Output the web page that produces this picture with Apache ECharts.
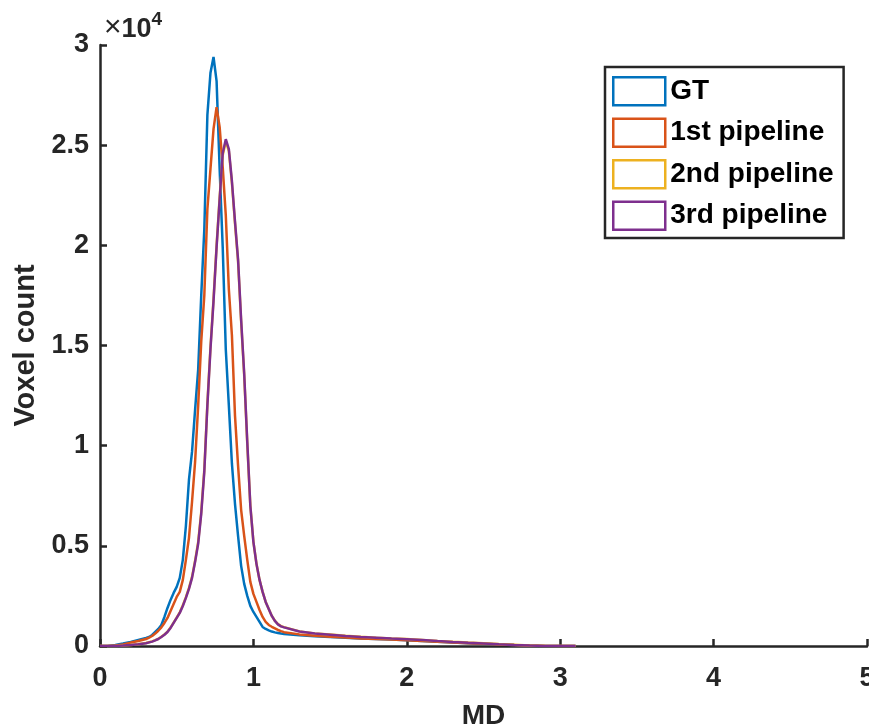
<!DOCTYPE html>
<html>
<head>
<meta charset="utf-8">
<script src="https://cdn.jsdelivr.net/npm/echarts@6/dist/echarts.min.js"></script>
<style>
html,body{margin:0;padding:0;background:#fff;overflow:hidden;}
#chart{width:869px;height:728px;}
</style>
</head>
<body>
<div id="chart"></div>
<script>
// Histogram bin positions (MD) and voxel counts
const mdBins = [0,0.05,0.10,0.15,0.20,0.25,
  0.30,0.32,0.34,0.36,0.38,0.40,0.42,0.44,0.46,0.48,0.50,0.52,0.54,0.56,0.58,0.60,0.62,0.64,0.66,0.68,
  0.70,0.72,0.74,0.76,0.78,0.80,0.82,0.84,0.86,0.88,0.90,0.92,0.94,0.96,0.98,1.00,1.02,1.04,1.06,1.08,
  1.10,1.12,1.14,1.16,1.18,1.20,
  1.3,1.4,1.5,1.6,1.7,1.8,1.9,2.0,2.1,2.2,2.3,2.4,2.5,2.6,2.7,2.8,2.9,3.0,3.1];

const gtCounts = [0,0,50,120,200,300,
  400,450,550,700,850,1050,1450,1900,2300,2650,2950,3400,4300,6000,8300,9700,11800,13800,17500,20800,
  26500,28600,29400,28200,23800,19900,14800,12000,9100,7100,5500,4000,3100,2500,2000,1700,1450,1200,950,850,
  780,720,680,650,620,600,
  540,490,450,410,380,350,320,290,250,210,170,140,110,75,45,20,5,0,0];

const p1Counts = [0,0,30,80,170,250,
  350,420,500,620,760,930,1150,1400,1750,2100,2450,2700,3300,4300,5400,7200,9200,12000,15200,17500,
  21800,23800,25800,26900,25900,23900,21500,17800,15500,11500,9000,6800,5500,4300,3200,2600,2200,1800,1450,1200,
  1050,960,880,800,740,690,
  580,510,460,420,380,350,320,290,250,210,170,140,110,75,45,20,5,0,0];

const p2Counts = [0,0,0,20,50,90,
  150,190,230,290,360,460,570,720,920,1170,1420,1680,2030,2440,2900,3450,4250,5200,6700,8800,
  12100,14900,17300,20000,22400,24500,25200,24700,23100,21100,19200,16200,13500,10100,7000,5200,4100,3300,2700,2200,
  1850,1500,1260,1090,990,940,
  730,630,570,510,460,415,375,345,305,255,210,170,135,95,60,25,8,0,0];

const p3Counts = [0,0,0,20,50,90,
  140,180,220,280,350,450,560,700,900,1150,1400,1650,2000,2400,2850,3400,4200,5100,6600,8700,
  12000,14800,17200,19900,22300,24600,25300,24800,23200,21200,19300,16300,13600,10200,7000,5200,4100,3300,2700,2200,
  1850,1500,1250,1080,980,930,
  720,620,560,500,450,410,370,340,300,250,205,165,130,90,55,22,6,0,0];

const seriesNames = ['GT','1st pipeline','2nd pipeline','3rd pipeline'];
const seriesColors = ['#0072BD','#D95319','#EDB120','#7E2F8E'];
const allCounts = [gtCounts,p1Counts,p2Counts,p3Counts];

const axisColor = '#262626';
const fontFam = '"Liberation Sans", Arial, Helvetica, sans-serif';

const chart = echarts.init(document.getElementById('chart'), null, {renderer:'canvas'});

const series = seriesNames.map((n,i)=>({
  name:n,
  type:'line',
  showSymbol:false,
  symbol:'none',
  animation:false,
  data: mdBins.map((x,k)=>[x, allCounts[i][k]]),
  lineStyle:{color:seriesColors[i], width:2.5},
  itemStyle:{color:seriesColors[i]},
  z: 2+i
}));

chart.setOption({
  backgroundColor:'#fff',
  animation:false,
  grid:{left:100, right:2, top:45, bottom:82, containLabel:false, outerBoundsMode:'none'},
  xAxis:{
    type:'value', min:0, max:5, interval:1,
    name:'MD', nameLocation:'middle', nameGap:56,
    nameTextStyle:{fontFamily:fontFam, fontWeight:'bold', fontSize:28, color:axisColor},
    axisLine:{show:true, onZero:false, lineStyle:{color:axisColor, width:2.5}},
    axisTick:{show:true, inside:true, length:7, lineStyle:{color:axisColor, width:2.5}},
    axisLabel:{show:true, margin:19, fontFamily:fontFam, fontWeight:'bold', fontSize:27, color:axisColor,
      showMaxLabel:true, showMinLabel:true, hideOverlap:false},
    splitLine:{show:false}
  },
  yAxis:{
    type:'value', min:0, max:30000, interval:5000,
    name:'Voxel count', nameLocation:'middle', nameGap:59, nameRotate:90,
    nameTextStyle:{fontFamily:fontFam, fontWeight:'bold', fontSize:29, color:axisColor},
    axisLine:{show:true, lineStyle:{color:axisColor, width:2.5}},
    axisTick:{show:true, inside:true, length:7, lineStyle:{color:axisColor, width:2.5}},
    axisLabel:{show:true, margin:11, fontFamily:fontFam, fontWeight:'bold', fontSize:27, color:axisColor,
      formatter:(v)=>String(v/10000)},
    splitLine:{show:false}
  },
  legend:{
    show:true, orient:'vertical', left:605, top:67,
    padding:[9,10,7,7], itemGap:11, itemWidth:52, itemHeight:28,
    borderColor:axisColor, borderWidth:2.5, backgroundColor:'#fff',
    icon:'rect',
    textStyle:{fontFamily:fontFam, fontWeight:'bold', fontSize:28, lineHeight:28, color:'#000'},
    data: seriesNames.map((n,i)=>({name:n, icon:'rect',
      itemStyle:{color:'#fff', borderColor:seriesColors[i], borderWidth:2.5}}))
  },
  graphic:[{
    type:'text', left:104, top:10,
    style:{
      text:'{a|×}{b|10}{c|4}',
      rich:{
        a:{fontFamily:fontFam, fontSize:30, fontWeight:'normal', fill:axisColor, verticalAlign:'bottom'},
        b:{fontFamily:fontFam, fontSize:27, fontWeight:'bold', fill:axisColor, verticalAlign:'bottom'},
        c:{fontFamily:fontFam, fontSize:19, fontWeight:'bold', fill:axisColor, verticalAlign:'top', padding:[0,0,14,0]}
      }
    }
  }],
  series: series
});
</script>
</body>
</html>
